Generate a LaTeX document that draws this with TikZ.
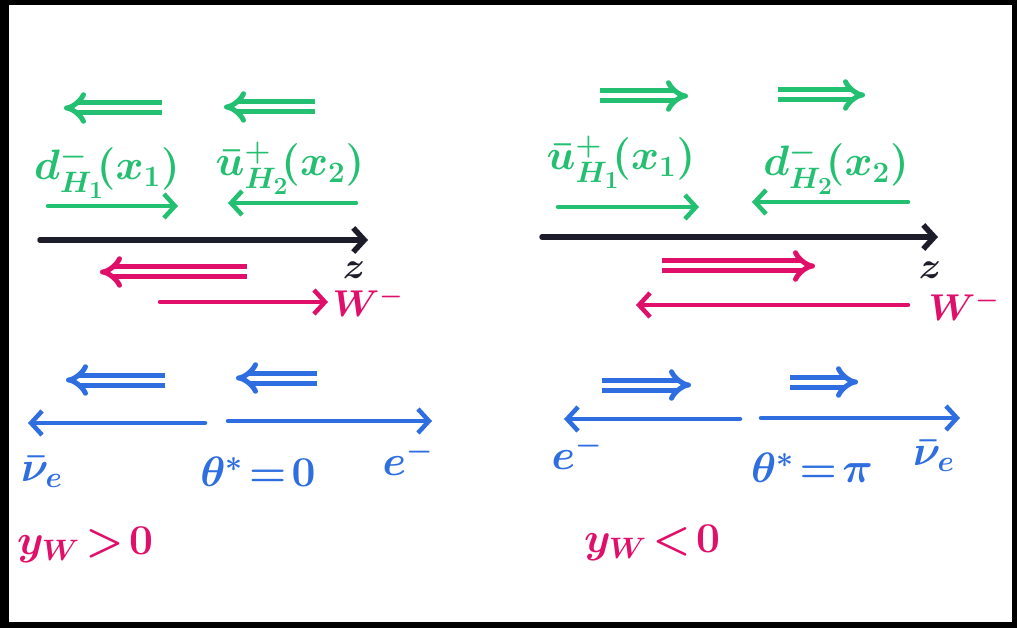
\documentclass[tikz,border=0pt]{standalone}
\usetikzlibrary{arrows.meta}
\usepackage{graphicx}
\definecolor{mgreen}{HTML}{22C070}
\definecolor{mblue}{HTML}{2E6EE0}
\definecolor{mmag}{HTML}{E0106A}
\definecolor{mblack}{HTML}{1C1C2A}
\newcommand\bigtxt[1]{\scalebox{2.05}{\huge\boldmath #1}}
\newcommand\midtxt[1]{\scalebox{1.8}{\huge\boldmath #1}}
\begin{document}
\begin{tikzpicture}[x=1pt,y=-1pt,
  sarrow/.style={line width=4.5pt, line cap=round, -{Straight Barb[length=11pt,width=24pt]}},
  darrow/.style={line width=5pt, double distance=5pt, -{Implies[scale=1.5]}},
  lab/.style={inner sep=0pt},
  slab/.style={inner sep=0pt}]
\fill[black] (0,0) rectangle (1017,628);
\fill[white] (9,5) rectangle (1012,622);
% ---------------- left panel ----------------
\coordinate (lga1) at (162,108); \coordinate (lga2) at (64,108);
\coordinate (lgb1) at (315,107); \coordinate (lgb2) at (224,107);
\draw[darrow, mgreen] (lga1) -- (lga2);
\draw[darrow, mgreen] (lgb1) -- (lgb2);
\node[lab, text=mgreen] (ld1) at (107,172) {\bigtxt{$d^{-}_{H_1}\!(x_1)$}};
\node[lab, text=mgreen] (lu2) at (290,168) {\bigtxt{$\bar u^{+}_{H_2}\!(x_2)$}};
\coordinate (lgs1) at (48,206); \coordinate (lgs2) at (178,206);
\coordinate (lgt1) at (356,203); \coordinate (lgt2) at (228,203);
\draw[sarrow, mgreen] (lgs1) -- (lgs2);
\draw[sarrow, mgreen] (lgt1) -- (lgt2);
\coordinate (lz1) at (40,240); \coordinate (lz2) at (368,240);
\draw[sarrow, mblack, line width=5.5pt] (lz1) -- (lz2);
\node[slab, text=mblack] (lz) at (354,270) {\midtxt{$z$}};
\coordinate (lma1) at (247,272); \coordinate (lma2) at (100,272);
\draw[darrow, mmag] (lma1) -- (lma2);
\coordinate (lms1) at (160,302); \coordinate (lms2) at (328,302);
\draw[sarrow, mmag] (lms1) -- (lms2);
\node[slab, text=mmag] (lW) at (368,302) {\midtxt{$W^{-}$}};
\coordinate (lba1) at (165,380); \coordinate (lba2) at (66,380);
\coordinate (lbb1) at (317,378); \coordinate (lbb2) at (236,378);
\draw[darrow, mblue] (lba1) -- (lba2);
\draw[darrow, mblue] (lbb1) -- (lbb2);
\coordinate (lbo) at (205,423); \coordinate (lbl) at (28,423);
\coordinate (lbo2) at (228,421); \coordinate (lbr) at (432,421);
\draw[sarrow, mblue] (lbo) -- (lbl);
\draw[sarrow, mblue] (lbo2) -- (lbr);
\node[slab, text=mblue] (lnu) at (42,472) {\bigtxt{$\bar\nu_e$}};
\node[slab, text=mblue] (lth) at (258,472) {\bigtxt{$\theta^{*}\!=\!0$}};
\node[slab, text=mblue] (le) at (408,458) {\bigtxt{$e^{-}$}};
\node[slab, text=mmag] (lyw) at (85,545) {\bigtxt{$y_W\!>\!0$}};
% ---------------- right panel ----------------
\coordinate (rga1) at (600,96); \coordinate (rga2) at (688,96);
\coordinate (rgb1) at (778,95); \coordinate (rgb2) at (865,95);
\draw[darrow, mgreen] (rga1) -- (rga2);
\draw[darrow, mgreen] (rgb1) -- (rgb2);
\node[lab, text=mgreen] (ru1) at (621,162) {\bigtxt{$\bar u^{+}_{H_1}\!(x_1)$}};
\node[lab, text=mgreen] (rd2) at (836,168) {\bigtxt{$d^{-}_{H_2}\!(x_2)$}};
\coordinate (rgs1) at (558,207); \coordinate (rgs2) at (699,207);
\coordinate (rgt1) at (908,202); \coordinate (rgt2) at (752,202);
\draw[sarrow, mgreen] (rgs1) -- (rgs2);
\draw[sarrow, mgreen] (rgt1) -- (rgt2);
\coordinate (rz1) at (542,237); \coordinate (rz2) at (938,237);
\draw[sarrow, mblack, line width=5.5pt] (rz1) -- (rz2);
\node[slab, text=mblack] (rz) at (930,270) {\midtxt{$z$}};
\coordinate (rma1) at (662,266); \coordinate (rma2) at (815,266);
\draw[darrow, mmag] (rma1) -- (rma2);
\coordinate (rms1) at (908,305); \coordinate (rms2) at (636,305);
\draw[sarrow, mmag] (rms1) -- (rms2);
\node[slab, text=mmag] (rW) at (964,306) {\midtxt{$W^{-}$}};
\coordinate (rba1) at (602,385); \coordinate (rba2) at (691,385);
\coordinate (rbb1) at (790,382); \coordinate (rbb2) at (858,382);
\draw[darrow, mblue] (rba1) -- (rba2);
\draw[darrow, mblue] (rbb1) -- (rbb2);
\coordinate (rbo) at (740,419); \coordinate (rbl) at (564,419);
\coordinate (rbo2) at (761,418); \coordinate (rbr) at (960,418);
\draw[sarrow, mblue] (rbo) -- (rbl);
\draw[sarrow, mblue] (rbo2) -- (rbr);
\node[slab, text=mblue] (re) at (577,452) {\bigtxt{$e^{-}$}};
\node[slab, text=mblue] (rth) at (812,468) {\bigtxt{$\theta^{*}\!=\!\pi$}};
\node[slab, text=mblue] (rnu) at (934,456) {\bigtxt{$\bar\nu_e$}};
\node[slab, text=mmag] (ryw) at (652,543) {\bigtxt{$y_W\!<\!0$}};
\end{tikzpicture}
\end{document}
